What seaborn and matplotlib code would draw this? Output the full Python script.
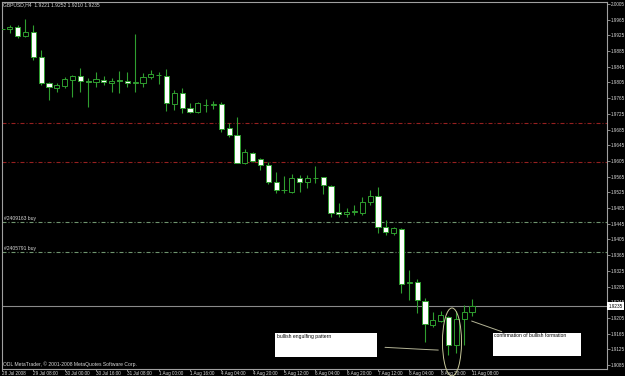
import matplotlib
matplotlib.use("Agg")
import matplotlib.pyplot as plt
from matplotlib.patches import Ellipse, Rectangle
import numpy as np
import seaborn as sns

# ---------------- data (GBPUSD, H4) ----------------
opens = [1.9942, 1.9941, 1.9946, 1.9923, 1.9933, 1.9869, 1.9804, 1.9792, 1.9797, 1.9811,
         1.9821, 1.9809, 1.9807, 1.9811, 1.9803, 1.9811, 1.9808, 1.9804, 1.9804, 1.9820,
         1.9824, 1.9822, 1.9750, 1.9777, 1.9739, 1.9730, 1.9747, 1.9747, 1.9750, 1.9688,
         1.9671, 1.9599, 1.9626, 1.9610, 1.9595, 1.9551, 1.9530, 1.9527, 1.9562, 1.9550,
         1.9561, 1.9563, 1.9542, 1.9474, 1.9469, 1.9474, 1.9472, 1.9500, 1.9516, 1.9436,
         1.9421, 1.9431, 1.9295, 1.9297, 1.9249, 1.9187, 1.9198, 1.9207, 1.9137, 1.9201,
         1.9221]
highs = [1.9964, 1.9951, 1.9951, 1.9967, 1.9951, 1.9888, 1.9807, 1.9804, 1.9820, 1.9824,
         1.9842, 1.9816, 1.9832, 1.9821, 1.9816, 1.9835, 1.9832, 1.9928, 1.9828, 1.9837,
         1.9832, 1.9838, 1.9786, 1.9790, 1.9752, 1.9756, 1.9762, 1.9758, 1.9756, 1.9702,
         1.9718, 1.9635, 1.9628, 1.9612, 1.9603, 1.9578, 1.9567, 1.9571, 1.9569, 1.9569,
         1.9592, 1.9565, 1.9544, 1.9497, 1.9484, 1.9493, 1.9514, 1.9531, 1.9539, 1.9455,
         1.9437, 1.9433, 1.9327, 1.9303, 1.9255, 1.9220, 1.9223, 1.9210, 1.9223, 1.9239,
         1.9252]
lows = [1.9934, 1.9931, 1.9918, 1.9921, 1.9862, 1.9798, 1.9760, 1.9781, 1.9790, 1.9768,
        1.9781, 1.9742, 1.9794, 1.9798, 1.9781, 1.9779, 1.9794, 1.9781, 1.9794, 1.9813,
        1.9801, 1.9733, 1.9735, 1.9726, 1.9726, 1.9728, 1.9730, 1.9737, 1.9679, 1.9665,
        1.9599, 1.9597, 1.9603, 1.9582, 1.9546, 1.9523, 1.9524, 1.9523, 1.9527, 1.9535,
        1.9548, 1.9520, 1.9463, 1.9463, 1.9463, 1.9467, 1.9467, 1.9493, 1.9421, 1.9416,
        1.9416, 1.9268, 1.9251, 1.9217, 1.9144, 1.9182, 1.9195, 1.9111, 1.9116, 1.9136,
        1.9210]
closes = [1.9940, 1.9946, 1.9924, 1.9933, 1.9871, 1.9803, 1.9794, 1.9798, 1.9813, 1.9821,
          1.9809, 1.9807, 1.9814, 1.9806, 1.9809, 1.9808, 1.9803, 1.9806, 1.9818, 1.9826,
          1.9825, 1.9752, 1.9777, 1.9739, 1.9730, 1.9753, 1.9748, 1.9750, 1.9686, 1.9672,
          1.9600, 1.9628, 1.9606, 1.9594, 1.9552, 1.9531, 1.9532, 1.9562, 1.9550, 1.9562,
          1.9562, 1.9543, 1.9472, 1.9469, 1.9476, 1.9477, 1.9500, 1.9516, 1.9436, 1.9423,
          1.9433, 1.9291, 1.9296, 1.9251, 1.9189, 1.9200, 1.9212, 1.9136, 1.9203, 1.9221,
          1.9235]

time_labels = ["28 Jul 2008", "29 Jul 08:00", "30 Jul 00:00", "30 Jul 16:00", "31 Jul 08:00",
               "1 Aug 00:00", "1 Aug 16:00", "4 Aug 04:00", "4 Aug 20:00", "5 Aug 12:00",
               "6 Aug 04:00", "6 Aug 20:00", "7 Aug 12:00", "8 Aug 04:00", "8 Aug 20:00",
               "11 Aug 08:00"]
price_ticks = [1.9085, 1.9125, 1.9165, 1.9205, 1.9245, 1.9285, 1.9325, 1.9365, 1.9405,
               1.9445, 1.9485, 1.9525, 1.9565, 1.9605, 1.9645, 1.9685, 1.9725, 1.9765,
               1.9805, 1.9845, 1.9885, 1.9925, 1.9965, 2.0005]
red_levels = [1.9702, 1.9602]
order_levels = [1.9449, 1.9373]
order_labels = ["#2409163 buy", "#2405791 buy"]
last_price = 1.9235
header = "GBPUSD,H4  1.9221 1.9252 1.9210 1.9235"
footer = "ODL MetaTrader, \u00a9 2001-2008 MetaQuotes Software Corp."
note1 = "bullish engulfing pattern"
note2 = "confirmation of bullish formation"

# ---------------- style ----------------
sns.set_theme(style="dark", rc={"axes.facecolor": "black", "figure.facecolor": "black",
                                "axes.edgecolor": "#a0a0a0", "axes.grid": False})
plt.rcParams["font.family"] = ["Liberation Sans", "DejaVu Sans"]

GREEN = "#2f9e2f"
TXT = "#d8d8d8"

fig = plt.figure(figsize=(6.25, 3.76), dpi=100)
ax = fig.add_axes([2 / 625, 7 / 376, 605 / 625, 367 / 376])
ax.set_facecolor("black")

n = len(opens)
x = np.arange(n)
o = np.array(opens); h = np.array(highs); l = np.array(lows); c = np.array(closes)

# level lines
for lv in red_levels:
    ax.axhline(lv, color="#962020", lw=0.8, ls=(0, (3.6, 1.8, 0.9, 1.8)), zorder=1)
for lv in order_levels:
    ax.axhline(lv, color="#6f956f", lw=0.8, ls=(0, (3.6, 1.8, 0.9, 1.8)), zorder=1)
ax.axhline(last_price, color="#8a8a8a", lw=0.8, zorder=1)

# candles
ax.vlines(x, l, h, color=GREEN, lw=0.8, zorder=2)
bottoms = np.minimum(o, c)
heights = np.maximum(np.abs(c - o), 0.00004)
faces = ["black" if cc > oo else "white" for oo, cc in zip(o, c)]
ax.bar(x, heights, bottom=bottoms, width=0.66, color=faces, edgecolor=GREEN,
       linewidth=0.7, zorder=3)

ax.set_xlim(0, 77.24)
ax.set_ylim(1.90748, 2.00099)

# axes / ticks
ax.yaxis.tick_right()
ax.set_yticks(price_ticks)
ax.set_yticklabels([f"{p:.4f}" for p in price_ticks])
ax.set_xticks(np.arange(0, n, 4))
ax.set_xticklabels(time_labels)
for t in ax.get_xticklabels():
    t.set_horizontalalignment("left")
ax.tick_params(axis="both", colors="#a0a0a0", labelcolor=TXT, labelsize=3.3,
               width=0.6, direction="out")
ax.tick_params(axis="y", right=True, left=False, length=2, pad=0.8)
ax.tick_params(axis="x", bottom=True, length=1.5, pad=0.0)
for s in ax.spines.values():
    s.set_color("#a0a0a0")
    s.set_linewidth(0.8)

# current price tag on right axis
ax.text(1.0025, (last_price - 1.90748) / (2.00099 - 1.90748), f"{last_price:.4f}",
        transform=ax.transAxes, fontsize=3.3, color="black", va="center", ha="left",
        bbox=dict(boxstyle="square,pad=0.25", fc="white", ec="none"), clip_on=False, zorder=10)

# texts
ax.text(0.002, 0.992, header, transform=ax.transAxes, fontsize=3.6, color=TXT,
        va="center", ha="left")
ax.text(0.002, 0.0136, footer, transform=ax.transAxes, fontsize=3.6, color=TXT,
        va="center", ha="left")
for lv, lab in zip(order_levels, order_labels):
    ax.text(0.2, lv + 0.0008, lab, fontsize=3.6, color=TXT, va="center", ha="left")

# annotation boxes
ax.add_patch(Rectangle((34.85, 1.91046), 13.02, 0.00627, fc="white", ec="none", zorder=6))
ax.text(35.1, 1.9157, note1, fontsize=3.6, color="black", va="center", ha="left", zorder=7)
ax.plot([48.9, 53.6, 55.7], [1.9130, 1.9125, 1.9123], color="#b4b496", lw=0.7, zorder=5)

ax.add_patch(Rectangle((62.72, 1.9109), 11.16, 0.0058, fc="white", ec="none", zorder=6))
ax.text(62.8, 1.9159, note2, fontsize=3.6, color="black", va="center", ha="left", zorder=7)
ax.plot([59.96, 63.8], [1.9197, 1.9170], color="#b4b496", lw=0.7, zorder=5)

ax.add_patch(Ellipse((57.45, 1.91436), 2.43, 0.01733, fill=False, ec="#c8c89a", lw=0.7,
                     zorder=8, clip_on=False))

fig.savefig("out.png", dpi=100, facecolor="black")
